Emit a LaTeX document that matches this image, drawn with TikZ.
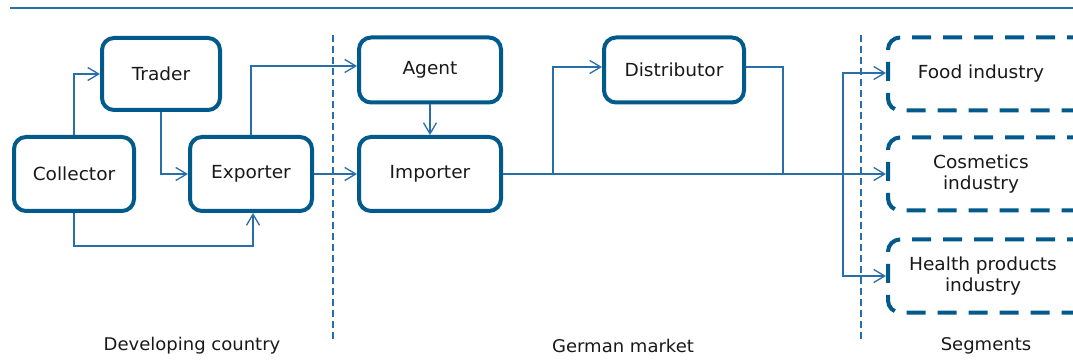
\documentclass[tikz,border=0pt]{standalone}
\usepackage{fontspec}
\setmainfont{DejaVu Sans}[FakeStretch=1.03]
\usetikzlibrary{arrows.meta}
\definecolor{boxblue}{RGB}{0,90,140}
\definecolor{lineblue}{RGB}{40,110,170}
\definecolor{txt}{RGB}{25,25,25}
\tikzset{
  stepbox/.style={draw=boxblue, line width=4pt, rounded corners=12pt, fill=white,
    text=txt, font=\fontsize{18}{21}\selectfont, align=center, inner sep=0pt},
  segbox/.style={stepbox, dash pattern=on 19pt off 12pt},
  segtext/.style={text=txt, font=\fontsize{18}{21}\selectfont, align=center, inner sep=0pt},
  conn/.style={draw=lineblue, line width=1.3pt, -{Straight Barb[length=11pt,width=13pt,line width=1.3pt]}},
  plainconn/.style={draw=lineblue, line width=1.3pt},
  divider/.style={draw=lineblue, line width=1.3pt, dash pattern=on 7pt off 4pt},
  region/.style={text=txt, font=\fontsize{17.5}{21}\selectfont}
}
\begin{document}
\begin{tikzpicture}[x=1pt,y=-1pt]
\useasboundingbox (0,0) rectangle (1073,363);
\fill[white] (0,0) rectangle (1073,363);
% top rule
\coordinate (tl) at (10,8);
\coordinate (tr) at (1073,8);
\draw[lineblue, line width=1.3pt] (tl) -- (tr);
% dividers
\coordinate (d1a) at (333,35);
\coordinate (d1b) at (333,342);
\coordinate (d2a) at (861,35);
\coordinate (d2b) at (861,342);
\draw[divider] (d1a) -- (d1b);
\draw[divider] (d2a) -- (d2b);
% boxes
\node[stepbox, minimum width=118pt, minimum height=72pt] (trader) at (161,74) {Trader};
\node[stepbox, minimum width=120pt, minimum height=74pt] (collector) at (74,174) {Collector};
\node[stepbox, minimum width=122pt, minimum height=74pt] (exporter) at (251,174) {Exporter};
\node[stepbox, minimum width=142pt, minimum height=65pt] (agent) at (430,70) {Agent};
\node[stepbox, minimum width=142pt, minimum height=74pt] (importer) at (430,174) {Importer};
\node[stepbox, minimum width=140pt, minimum height=65pt] (distributor) at (674,70) {Distributor};
\node[segbox, minimum width=210pt, minimum height=73pt] (food) at (993,74) {};
\node[segbox, minimum width=210pt, minimum height=73pt] (cosmetics) at (993,174) {};
\node[segbox, minimum width=210pt, minimum height=73pt] (health) at (993,276) {};
\node[segtext] (foodt) at (981,74) {Food industry};
\node[segtext] (cosmeticst) at (981,174) {Cosmetics\\industry};
\node[segtext] (healtht) at (983,276) {Health products\\industry};
% connectors
\draw[conn] (collector.north) |- (trader.west);
\draw[conn] (trader.south) |- (exporter.west);
\draw[conn] (collector.south) -- ++(0,33) -| ([xshift=2pt]exporter.south);
\draw[conn] (exporter.north) |- ([yshift=4pt]agent.west);
\draw[conn] (exporter.east) -- (importer.west);
\draw[conn] (agent.south) -- (importer.north);
\draw[conn] (importer.east) -- (cosmetics.west);
\coordinate (j1) at (553,174);
\coordinate (j2) at (783,174);
\coordinate (j3) at (843,174);
\draw[conn] (j1) |- ([yshift=3pt]distributor.west);
\draw[plainconn] ([yshift=3pt]distributor.east) -| (j2);
\draw[conn] (j3) |- ([yshift=1pt]food.west);
\draw[conn] (j3) |- (health.west);
% region labels
\node[region] (lab1) at (192,346) {Developing country};
\node[region] (lab2) at (623,346) {German market};
\node[region] (lab3) at (986,346) {Segments};
\end{tikzpicture}
\end{document}
